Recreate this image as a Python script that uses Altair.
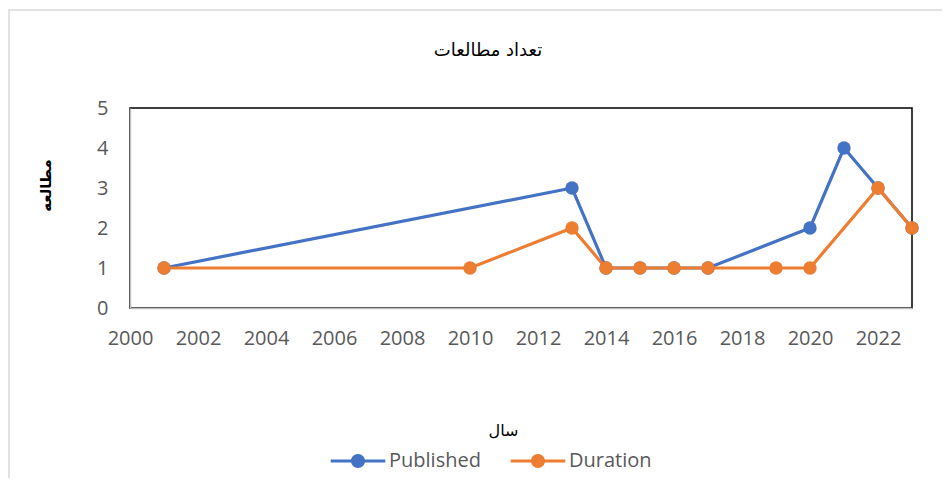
import altair as alt
import pandas as pd

# Data
pub_years = [2001, 2013, 2014, 2015, 2016, 2017, 2020, 2021, 2022, 2023]
pub_vals = [1, 3, 1, 1, 1, 1, 2, 4, 3, 2]
dur_years = [2001, 2010, 2013, 2014, 2015, 2016, 2017, 2019, 2020, 2022, 2023]
dur_vals = [1, 1, 2, 1, 1, 1, 1, 1, 1, 3, 2]
series = ["Published", "Duration"]
colors = ["#4472C4", "#ED7D31"]
x_ticks = list(range(2000, 2023, 2))
y_ticks = [0, 1, 2, 3, 4, 5]

df = pd.concat([
    pd.DataFrame({"year": pub_years, "value": pub_vals, "series": "Published"}),
    pd.DataFrame({"year": dur_years, "value": dur_vals, "series": "Duration"}),
])

FONT = "Open Sans"
ARFONT = "DejaVu Sans"

# custom legend symbol: line with a dot in the middle (units scaled by sqrt(size)/2)
sym = ("M-3.9,-0.22L-0.9,-0.22L-0.9,0.22L-3.9,0.22Z "
       "M0.9,-0.22L3.9,-0.22L3.9,0.22L0.9,0.22Z "
       "M-1,0A1,1 0 1,1 1,0A1,1 0 1,1 -1,0Z")

x_enc = alt.X("year:Q", scale=alt.Scale(domain=[2000, 2023], nice=False, zero=False),
              axis=alt.Axis(values=x_ticks, format="d", title="سال", grid=False,
                            ticks=False, labelFont=FONT, labelFontSize=20,
                            labelColor="#595959", labelPadding=20,
                            labelFlush=False, labelOverlap=False,
                            domainColor="#BFBFBF", domainWidth=1.5,
                            titleFont=ARFONT, titleFontSize=16, titleFontWeight="normal",
                            titleColor="#000000", titleX=373, titleY=122,
                            titleBaseline="middle", titleAnchor="start", titleAlign="center",
                            zindex=1))
y_enc = alt.Y("value:Q", scale=alt.Scale(domain=[0, 5], nice=False),
              axis=alt.Axis(values=y_ticks, format="d", title="مطالعه", grid=False,
                            ticks=False, labelFont=FONT, labelFontSize=20,
                            labelColor="#595959", labelPadding=22,
                            labelFlush=False, labelOverlap=False,
                            domainColor="#BFBFBF", domainWidth=1.5,
                            titleFont=ARFONT, titleFontSize=15, titleFontWeight="bold",
                            titleColor="#000000", titleX=-85, titleY=77,
                            titleAngle=-90, titleBaseline="middle", titleAlign="center",
                            titleAnchor="start", zindex=1))

color_scale = alt.Scale(domain=series, range=colors)
legend = alt.Legend(title=None, orient="none", direction="horizontal",
                    legendX=218, legendY=343,
                    symbolType=sym, symbolSize=196,
                    symbolStrokeWidth=0, symbolOpacity=1,
                    labelFont=FONT, labelFontSize=20,
                    labelColor="#595959", labelOffset=21,
                    columnPadding=29)

layers = []
for s in series:
    sub = alt.Chart(df).transform_filter(alt.datum.series == s)
    line = sub.mark_line(strokeWidth=3.2).encode(
        x=x_enc, y=y_enc,
        color=alt.Color("series:N", scale=color_scale, legend=legend),
    )
    pts = sub.mark_point(filled=True, size=180, opacity=1).encode(
        x=x_enc, y=y_enc,
        color=alt.Color("series:N", scale=color_scale, legend=legend),
    )
    layers += [line, pts]

frame = alt.Chart(pd.DataFrame({"a": [0]})).mark_rect(
    fill=None, stroke="#D9D9D9", strokeWidth=1.5, clip=False
).encode(x=alt.value(-121), x2=alt.value(900), y=alt.value(-98), y2=alt.value(500))

chart = alt.layer(frame, *layers).properties(
    width=782, height=200,
    background="white",
    padding={"left": 122, "top": 100, "right": 30, "bottom": 170},
    autosize=alt.AutoSizeParams(type="none"),
    title=alt.TitleParams("تعداد مطالعات", font=ARFONT, fontSize=18, fontWeight="normal",
                          color="#000000", anchor="middle", dx=-33, offset=0, dy=51),
).configure_view(stroke="#000000", strokeWidth=1.5)

chart.save("out.html", embed_options={"renderer": "svg", "actions": False})
